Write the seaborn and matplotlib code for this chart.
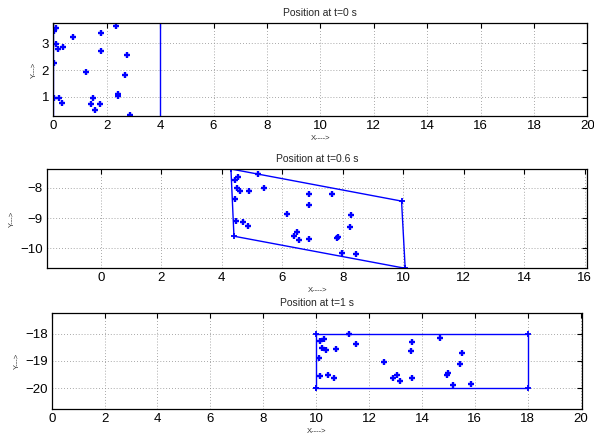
import matplotlib
matplotlib.use("Agg")
import matplotlib.pyplot as plt
import seaborn as sns
import pandas as pd

# ---- data: t = 0 s ----
x_t0 = [0.10, 0.03, 0.75, 1.79, 2.33, 0.10, 0.16, 0.35, 1.79, 2.75, 0.04, 1.23,
        2.70, 0.04, 0.23, 0.34, 1.48, 2.44, 2.44, 1.40, 1.75, 1.55, 2.88]
y_t0 = [3.59, 3.46, 3.23, 3.40, 3.65, 2.96, 2.80, 2.88, 2.71, 2.56, 2.25, 1.94,
        1.81, 0.94, 0.94, 0.78, 0.96, 1.09, 1.04, 0.71, 0.71, 0.49, 0.31]
box_x_t0 = [0, 4, 4, 0, 0]
box_y_t0 = [0, 0, 4, 4, 0]

# ---- data: t = 0.6 s ----
x_t06 = [5.19, 4.42, 4.52, 4.50, 4.61, 4.89, 5.39, 4.43, 6.89, 7.64, 6.89, 6.14, 8.27,
         8.22, 4.48, 4.71, 4.87, 6.47, 6.39, 6.56, 6.89, 7.81, 7.83, 7.96, 8.44]
y_t06 = [-7.56, -7.73, -7.66, -8.02, -8.11, -8.11, -8.02, -8.38, -8.21, -8.21, -8.58, -8.87, -8.91,
         -9.31, -9.10, -9.13, -9.26, -9.45, -9.59, -9.73, -9.68, -9.67, -9.64, -10.16, -10.19]
box_x_t06 = [4.30, 9.94, 10.06, 4.40, 4.30]
box_y_t06 = [-7.38, -8.44, -10.66, -9.60, -7.38]

# ---- data: t = 1 s ----
x_t1 = [11.23, 10.13, 10.29, 10.23, 10.36, 10.74, 11.52, 13.64, 13.60, 14.69, 15.50, 15.44, 10.10,
        12.58, 10.15, 10.45, 10.66, 12.92, 13.05, 13.16, 13.63, 14.97, 14.94, 15.16, 15.84]
y_t1 = [-18.00, -18.26, -18.19, -18.54, -18.60, -18.55, -18.39, -18.31, -18.65, -18.16, -18.72, -19.10, -18.88,
        -19.03, -19.54, -19.53, -19.63, -19.64, -19.51, -19.74, -19.64, -19.46, -19.51, -19.89, -19.84]
box_x_t1 = [10, 18, 18, 10, 10]
box_y_t1 = [-20, -20, -18, -18, -20]

titles = ["Position at t=0 s", "Position at t=0.6 s", "Position at t=1 s"]
xticks = [list(range(0, 21, 2)), list(range(0, 17, 2)), list(range(0, 21, 2))]
yticks = [[1, 2, 3], [-10, -9, -8], [-20, -19, -18]]
xlims = [(0, 20), (-1.78, 16.08), (0, 20.05)]
ylims = [(0.29, 3.75), (-10.66, -7.38), (-20.78, -17.23)]

sns.set_style("white")
plt.rcParams["font.family"] = ["Liberation Sans", "DejaVu Sans"]
plt.rcParams["axes.unicode_minus"] = True

fig = plt.figure(figsize=(5.94, 4.38), dpi=100)
positions = [
    [53.3 / 594, 1 - 115.7 / 438, 534.0 / 594, 92.4 / 438],
    [47.0 / 594, 1 - 268.3 / 438, 540.3 / 594, 99.3 / 438],
    [51.7 / 594, 1 - 409.3 / 438, 530.3 / 594, 96.6 / 438],
]

panels = [
    (x_t0, y_t0, box_x_t0, box_y_t0),
    (x_t06, y_t06, box_x_t06, box_y_t06),
    (x_t1, y_t1, box_x_t1, box_y_t1),
]

blue = (0, 0, 1)
for i, (px, py, bx, by) in enumerate(panels):
    ax = fig.add_axes(positions[i])
    pts = pd.DataFrame({"x": px, "y": py})
    box = pd.DataFrame({"x": bx, "y": by})
    sns.lineplot(data=box, x="x", y="y", sort=False, estimator=None, ax=ax,
                 color=blue, lw=1.0, marker="+", markersize=4, markeredgewidth=1.3,
                 markeredgecolor=blue)
    sns.scatterplot(data=pts, x="x", y="y", ax=ax, marker="+", s=15,
                    linewidths=1.7, color=blue, zorder=3)
    ax.set_xlim(*xlims[i])
    ax.set_ylim(*ylims[i])
    ax.set_xticks(xticks[i])
    ax.set_yticks(yticks[i])
    ax.grid(True, linestyle=(0, (1, 2.5)), color="0.55", lw=0.6)
    ax.set_axisbelow(True)
    for sp in ax.spines.values():
        sp.set_visible(True)
        sp.set_color("black")
        sp.set_linewidth(0.9)
        sp.set_zorder(4)
    ax.tick_params(direction="in", length=3.5, width=0.8, top=True, right=True,
                   labelsize=9.5, pad=3, colors="black")
    ax.set_title(titles[i], fontsize=7.5, pad=5)
    ax.set_xlabel("X---->", fontsize=5.5, labelpad=2, color="0.2")
    ax.set_ylabel("Y--->", fontsize=5.5, labelpad=3, color="0.2")

fig.savefig("out.png", dpi=100)
